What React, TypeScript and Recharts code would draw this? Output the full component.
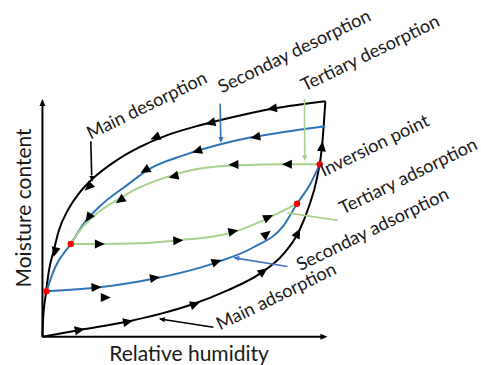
import { ComposedChart, Line, Scatter, XAxis, YAxis, ReferenceLine } from 'recharts';

// curve points: [relative humidity, moisture content] on a 0-100 scale
const mainDesorption = [
  [0, 0], [0.2, 6.8], [1.2, 18.2], [2.3, 28.1], [4.0, 36.6], [5.8, 45.1], [8.9, 53.6],
  [12.8, 60.7], [18.4, 67.8], [26.2, 74.9], [34.5, 80.6], [43.9, 85.5], [55.7, 89.8],
  [67.5, 93.3], [81.7, 96.9], [100, 100],
];
const mainAdsorption = [
  [0, 0], [13.2, 2.9], [29.8, 6.4], [41.6, 9.7], [53.3, 13.9], [65.2, 19.6], [77.0, 26.9],
  [85.2, 35.2], [90.5, 44.4], [94.1, 55.0], [97.1, 67.8], [98.8, 80.6], [100, 100],
];
const secondaryDesorption = [
  [1.4, 19.3], [4.5, 29.5], [10.0, 39.4], [14.8, 48.4], [20.7, 55.9], [29.8, 64.3],
  [38.0, 71.4], [49.8, 77.0], [61.6, 81.3], [73.4, 84.6], [85.2, 86.9], [100, 89.4],
];
const secondaryAdsorption = [
  [1.4, 19.3], [20.3, 21.0], [39.2, 24.6], [61.6, 31.6], [74.6, 38.0], [85.2, 47.2],
  [90.0, 56.5], [94.7, 65.0], [98.0, 73.2],
];
const tertiaryDesorption = [
  [10.0, 39.4], [13.2, 45.1], [19.1, 52.2], [26.2, 57.9], [34.5, 63.5], [43.9, 67.8],
  [55.7, 71.4], [69.9, 72.8], [86.4, 73.2], [98.0, 73.2],
];
const tertiaryAdsorption = [
  [10.0, 39.4], [20.3, 39.4], [34.5, 39.7], [47.5, 40.9], [67.5, 44.4], [79.3, 50.1], [90.0, 56.5],
];

// reversal points (red dots)
const inversionPoints = [[1.4, 19.3], [10.0, 39.4], [90.0, 56.5], [98.0, 73.2]];

// flow arrows along the curves: [x, y, direction in degrees]
const flowArrows = [
  // main desorption
  [81.1, 96.9, 172], [59.3, 90.8, 166], [39.8, 84.6, 158], [16.2, 63.5, 135], [4.4, 35.9, 104],
  // main adsorption
  [13.2, 2.9, -10], [30.3, 6.4, -12], [54.0, 13.9, -20], [78.1, 27.8, -36], [90.3, 44.1, -62], [98.8, 80.9, -84],
  // secondary desorption
  [75.2, 84.8, 170], [54.6, 78.9, 163], [36.2, 70.6, 150], [16.2, 50.5, 125],
  // secondary adsorption
  [19.1, 21.0, -3], [39.8, 25.0, -9], [61.6, 31.9, -20], [79.3, 43.7, -38],
  // tertiary desorption
  [86.4, 73.2, 180], [67.5, 73.1, 178], [46.3, 68.1, 165], [27.4, 57.9, 145],
  // tertiary adsorption
  [20.3, 39.4, 0], [48.0, 40.9, -3], [67.5, 44.8, -12], [79.9, 50.8, -25],
  // the odd one below the secondary adsorption curve
  [22.4, 16.7, 0],
];

// callout lines from the labels to the curves
const calloutMainDes = [[17.1, 83.0], [17.4, 68.5]];
const calloutSecDes = [[62.8, 99.0], [63.0, 84.5]];
const calloutTerDes = [[92.6, 101.1], [92.7, 76.5]];
const calloutTerAds = [[104.4, 49.4], [86.6, 52.6]];
const calloutSecAds = [[86.6, 29.8], [67.9, 33.5]];
const calloutMainAds = [[60.4, 4.0], [41.6, 7.5]];

const calloutHeads = [
  { x: 17.5, y: 67.0, dir: 88, color: '#000000' },
  { x: 63.1, y: 83.6, dir: 90, color: '#2e75b6' },
  { x: 92.7, y: 75.8, dir: 90, color: '#a9d18e' },
  { x: 68.5, y: 33.4, dir: 189, color: '#4472c4' },
  { x: 42.2, y: 7.4, dir: 189, color: '#000000' },
];

const axisHeads = [
  { x: 99.5, y: 0, dir: 0 },
  { x: 0, y: 99.5, dir: -90 },
];

const labels = [
  { x: 17.0, y: 83.7, text: 'Main desorption' },
  { x: 63.4, y: 103.3, text: 'Seconday desorption' },
  { x: 92.7, y: 104.0, text: 'Tertiary desorption' },
  { x: 99.4, y: 67.8, text: 'Inversion point' },
  { x: 106.2, y: 51.8, text: 'Tertiary adsorption' },
  { x: 91.1, y: 27.8, text: 'Seconday adsorption' },
  { x: 62.8, y: 2.6, text: 'Main adsorption' },
];

const axisTitles = [
  { x: 51.8, y: -10.2, text: 'Relative humidity', angle: 0 },
  { x: -4.0, y: 54.7, text: 'Moisture content', angle: -90 },
];

const toPoints = (arr: number[][]) => arr.map(([x, y]) => ({ x, y }));

const FONT = 'Lato, "Open Sans", sans-serif';
const BLACK = '#000000';
const BLUE = '#2e75b6';
const GREEN = '#a9d18e';

const Triangle = ({ cx, cy, dir, len, wid, fill }: any) => {
  const h = len / 2;
  const w = wid / 2;
  return (
    <polygon
      points={`${h},0 ${-h},${-w} ${-h},${w}`}
      transform={`translate(${cx},${cy}) rotate(${dir})`}
      fill={fill}
    />
  );
};

const FlowArrow = (props: any) => (
  <Triangle cx={props.cx} cy={props.cy} dir={props.payload.dir} len={10} wid={9} fill={BLACK} />
);

const CalloutHead = (props: any) => (
  <Triangle cx={props.cx} cy={props.cy} dir={props.payload.dir} len={6} wid={5} fill={props.payload.color} />
);

const AxisHead = (props: any) => (
  <Triangle cx={props.cx} cy={props.cy} dir={props.payload.dir} len={7} wid={6} fill={BLACK} />
);

const RedDot = (props: any) => <circle cx={props.cx} cy={props.cy} r={3.2} fill="#ff0000" />;

const NoteText = (props: any) => (
  <text
    x={props.cx}
    y={props.cy}
    transform={`rotate(-26 ${props.cx} ${props.cy})`}
    fontFamily={FONT}
    fontSize={18.2}
    fill="#1a1a1a"
  >
    {props.payload.text}
  </text>
);

const TitleText = (props: any) => (
  <text
    x={props.cx}
    y={props.cy}
    transform={`rotate(${props.payload.angle} ${props.cx} ${props.cy})`}
    textAnchor="middle"
    fontFamily={FONT}
    fontSize={21}
    fill="#1a1a1a"
  >
    {props.payload.text}
  </text>
);

export default function App() {
  const curve = (data: number[][], color: string, key: string, width = 2) => (
    <Line
      key={key}
      data={toPoints(data)}
      dataKey="y"
      type="monotone"
      stroke={color}
      strokeWidth={width}
      dot={false}
      activeDot={false}
      isAnimationActive={false}
    />
  );
  const callout = (data: number[][], color: string, key: string) => (
    <Line
      key={key}
      data={toPoints(data)}
      dataKey="y"
      type="linear"
      stroke={color}
      strokeWidth={1.6}
      dot={false}
      activeDot={false}
      isAnimationActive={false}
    />
  );

  return (
    <div style={{ position: 'absolute', left: 0, top: 0, background: '#fff' }}>
      <ComposedChart width={481} height={365} margin={{ top: 0, right: 0, bottom: 0, left: 0 }}>
        <XAxis type="number" dataKey="x" domain={[-15, 155]} hide />
        <YAxis type="number" dataKey="y" domain={[-12, 143]} hide />

        <ReferenceLine segment={[{ x: 0, y: 0 }, { x: 99, y: 0 }]} stroke={BLACK} strokeWidth={2} />
        <ReferenceLine segment={[{ x: 0, y: 0 }, { x: 0, y: 99 }]} stroke={BLACK} strokeWidth={2} />

        {curve(mainDesorption, BLACK, 'mainDes')}
        {curve(mainAdsorption, BLACK, 'mainAds')}
        {curve(secondaryDesorption, BLUE, 'secDes')}
        {curve(secondaryAdsorption, BLUE, 'secAds')}
        {curve(tertiaryDesorption, GREEN, 'terDes')}
        {curve(tertiaryAdsorption, GREEN, 'terAds')}

        {callout(calloutMainDes, BLACK, 'c1')}
        {callout(calloutSecDes, BLUE, 'c2')}
        {callout(calloutTerDes, GREEN, 'c3')}
        {callout(calloutTerAds, GREEN, 'c4')}
        {callout(calloutSecAds, '#4472c4', 'c5')}
        {callout(calloutMainAds, BLACK, 'c6')}

        <Scatter
          data={flowArrows.map(([x, y, dir]) => ({ x, y, dir }))}
          shape={FlowArrow}
          isAnimationActive={false}
        />
        <Scatter data={calloutHeads} shape={CalloutHead} isAnimationActive={false} />
        <Scatter data={axisHeads} shape={AxisHead} isAnimationActive={false} />
        <Scatter data={toPoints(inversionPoints)} shape={RedDot} isAnimationActive={false} />
        <Scatter data={labels} shape={NoteText} isAnimationActive={false} />
        <Scatter data={axisTitles} shape={TitleText} isAnimationActive={false} />
      </ComposedChart>
    </div>
  );
}
